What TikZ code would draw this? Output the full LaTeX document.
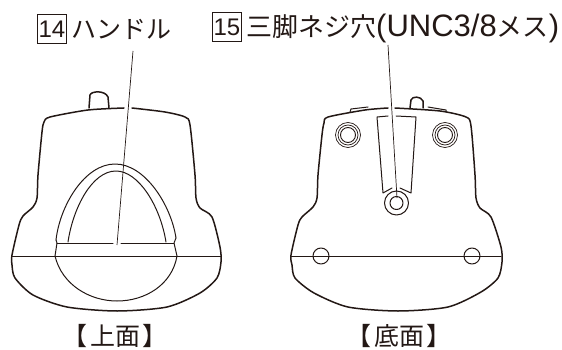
\documentclass[tikz,border=0pt]{standalone}
\usepackage{fontspec}
\setmainfont{Noto Sans CJK JP}
\newfontfamily\latinf{Liberation Sans}
\definecolor{ink}{HTML}{231815}
\newcommand{\jpsize}{\fontsize{26}{26}\selectfont}
\newcommand{\ltsize}{\latinf\fontsize{31}{31}\selectfont}
\tikzset{
  outline/.style={draw=ink,line width=1.5pt,line cap=round,line join=round},
  thin part/.style={draw=ink,line width=1.0pt,line cap=round,line join=round},
  leader/.style={draw=ink,line width=0.7pt},
  label/.style={text=ink,inner sep=0pt,font=\fontsize{25}{25}\selectfont},
  numbox/.style={draw=ink,line width=0.8pt,minimum size=29pt,inner sep=0pt,text=ink,font=\latinf\fontsize{24}{24}\selectfont},
  every picture/.append style={x=1pt,y=-1pt}
}
\begin{document}
\begin{tikzpicture}
\useasboundingbox (0,0) rectangle (562,350);
% labels
\node[numbox] (n14) at (52,29) {14};
\node[label,anchor=west] (t14) at (71,29) {ハンドル};
\node[numbox] (n15) at (227,27) {15};
\node[label,anchor=west] (t15) at (246,28) {\jpsize 三脚ネジ穴{\ltsize (UNC3/8}メス{\ltsize )}};
\node[label] (c1) at (115,336) {【\hspace{-3pt} 上面 \hspace{-3pt}】};
\node[label] (c2) at (399,336) {【\hspace{-3pt} 底面 \hspace{-3pt}】};
% top view body
\draw[outline] plot[smooth,tension=0.45] coordinates {(124,108) (88,110) (50,117) (44,122) (42,132) (38,175) (37,198) (33,207) (23,216) (19,225) (12,255) (12,265) (15,278) (33,295) (67,307) (117,311) (167,307) (200,293) (217,278) (221,262) (220,247) (212,217) (200,208) (196,198) (195,175) (190,125) (185,117) (165,112) (132,108)};
\draw[outline] (89,108) -- (90,95) .. controls (91,91) and (105,90) .. (108,97) -- (109,108);
\draw[thin part] (12,256) -- (221,256);
\draw[thin part] (56,240) .. controls (60,205) and (85,164) .. (115,164) .. controls (145,164) and (171,205) .. (176,238);
\draw[thin part] (68,242) .. controls (73,208) and (92,171) .. (116,171) .. controls (138,171) and (160,205) .. (166,242);
\draw[thin part] (56,240) -- (57,243) -- (55,256);
\draw[thin part] (176,238) -- (174,243) -- (177,256);
\draw[thin part] (57,243) -- (113,243) (121,243) -- (174,243);
\draw[thin part] (55,256) .. controls (62,285) and (90,301) .. (117,301) .. controls (145,301) and (172,285) .. (177,256);
\coordinate (a14) at (133,51);
\coordinate (b14) at (117,245);
\draw[leader] (a14) -- (b14);
% bottom view body
\draw[outline] plot[smooth,tension=0.45] coordinates {(388,108) (365,110) (328,117) (324,123) (322,135) (318,175) (317,198) (313,207) (302,217) (298,225) (291,255) (292,265) (295,278) (314,293) (348,307) (398,311) (448,307) (481,292) (498,278) (502,262) (501,247) (491,217) (480,208) (476,198) (475,175) (471,126) (466,117) (440,111) (395,108)};
\draw[thin part] (350,112) -- (351,109) -- (368,107);
\draw[thin part] (428,107) -- (446,110) -- (446,112);
\draw[outline] (410,108) -- (411,100) .. controls (412,96) and (421,96) .. (423,101) -- (423,108);
\draw[thin part] (291,256) -- (501,256);
\node[circle,thin part,minimum size=16pt,inner sep=0pt] (h1) at (321,256) {};
\node[circle,thin part,minimum size=16pt,inner sep=0pt] (h2) at (472,256) {};
\foreach \cx/\nm in {348/s1,445/s2}{
  \node[circle,draw=ink,line width=0.7pt,minimum size=25pt,inner sep=0pt] (\nm a) at (\cx,135) {};
  \node[circle,draw=ink,line width=0.7pt,minimum size=20pt,inner sep=0pt] (\nm b) at (\cx,135) {};
  \node[circle,draw=ink,line width=0.9pt,minimum size=15pt,inner sep=0pt] (\nm c) at (\cx,135) {};
}
\draw[thin part] (388,116) -- (377,117) -- (383,193) -- (392,188);
\draw[thin part] (396,116) -- (416,117) -- (411,193) -- (400,188);
\node[circle,thin part,minimum size=24pt,inner sep=0pt] (m1) at (396.5,203) {};
\node[circle,thin part,minimum size=13pt,inner sep=0pt] (m2) at (396.5,203) {};
\coordinate (a15) at (388,45);
\coordinate (b15) at (397,198);
\draw[leader] (a15) -- (b15);
\end{tikzpicture}
\end{document}
